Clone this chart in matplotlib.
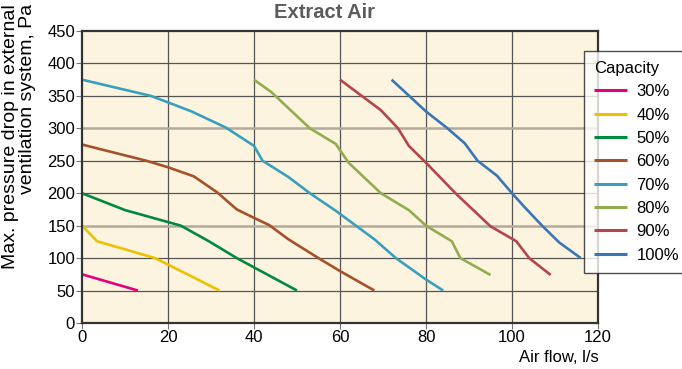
import matplotlib
matplotlib.use("Agg")
from matplotlib import pyplot as plt

# capacity curves, air flow (l/s) vs max pressure drop (Pa)
flow_30 = [0, 13]
pa_30 = [75, 50]

flow_40 = [0, 3.5, 17, 32]
pa_40 = [150, 126, 100, 50]

flow_50 = [0, 10, 23, 29.5, 36, 50]
pa_50 = [200, 174, 150, 126, 100, 50]

flow_60 = [0, 15, 20, 26, 31.5, 36, 40, 43.5, 48, 55, 60, 68]
pa_60 = [275, 250, 240, 226, 201, 175, 162, 151, 129, 100, 80, 50]

flow_70 = [0, 16, 20, 25.5, 33.5, 40, 42, 48, 53, 59, 68, 73, 80, 84]
pa_70 = [375, 350, 340, 326, 301, 273, 250, 225, 200, 173, 129, 100, 67, 50]

flow_80 = [40, 44, 53, 59, 62, 69.5, 76, 80, 86, 88, 95]
pa_80 = [375, 356, 300, 276, 247, 200, 174, 150, 126, 100, 74]

flow_90 = [60, 69.5, 73.5, 76, 80, 87, 95, 101, 104, 109]
pa_90 = [375, 328, 300, 273, 247, 199, 149, 126, 100, 74]

flow_100 = [72, 80, 85, 89, 92, 96.5, 100, 103, 107, 111, 116]
pa_100 = [375, 326, 300, 277, 250, 227, 200, 178, 150, 124, 100]

labels = ["30%", "40%", "50%", "60%", "70%", "80%", "90%", "100%"]
colors = ["#e5007d", "#ecc100", "#008a3e", "#a5512a", "#3a9fbd", "#92ad50", "#b5454a", "#3a76b5"]
x_ticks = [0, 20, 40, 60, 80, 100, 120]
y_ticks = [0, 50, 100, 150, 200, 250, 300, 350, 400, 450]

series = [
    (flow_30, pa_30), (flow_40, pa_40), (flow_50, pa_50), (flow_60, pa_60),
    (flow_70, pa_70), (flow_80, pa_80), (flow_90, pa_90), (flow_100, pa_100),
]

plt.rcParams["font.family"] = ["Liberation Sans", "DejaVu Sans"]

fig = plt.figure(figsize=(6.82, 3.69), dpi=100)
ax = fig.add_axes([82 / 682, 1 - 323 / 369, 516 / 682, 292 / 369])
ax.set_facecolor("#fdf4e0")

for v in x_ticks[1:-1]:
    ax.axvline(v, color="#555555", lw=0.9, zorder=1)
for v in y_ticks[1:-1]:
    if v in (150, 300):
        ax.axhline(v, color="#b3aa9c", lw=1.8, zorder=1)
    else:
        ax.axhline(v, color="#555555", lw=0.9, zorder=1)

for (x, y), lab, col in zip(series, labels, colors):
    ax.plot(x, y, color=col, lw=1.9, label=lab, zorder=3, solid_capstyle="butt")

ax.set_xlim(0, 120)
ax.set_ylim(0, 450)
ax.set_xticks(x_ticks)
ax.set_yticks(y_ticks)
ax.tick_params(labelsize=12, length=4, color="#777777", width=0.8, pad=1)
for s in ax.spines.values():
    s.set_color("#333333")
    s.set_linewidth(1.6)
    s.set_zorder(4)

fig.text(325 / 682, 1 - 12 / 369, "Extract Air", ha="center", va="center",
         fontsize=14.5, fontweight="bold", color="#5b5b5b")
fig.text(599 / 682, 1 - 357 / 369, "Air flow, l/s", ha="right", va="center", fontsize=12)
fig.text(19 / 682, 1 - 4 / 369, "Max. pressure drop in external\nventilation system, Pa",
         rotation=90, ha="center", va="top", multialignment="right", fontsize=14, linespacing=1.0)

leg = fig.legend(loc="upper left", bbox_to_anchor=(584 / 682, 1 - 51 / 369), title="Capacity",
                 fontsize=12, title_fontsize=12, frameon=True, fancybox=False, handlelength=2.0,
                 handletextpad=0.55, labelspacing=0.5, borderpad=0.6, borderaxespad=0,
                 alignment="left")
leg.get_frame().set_edgecolor("#222222")
leg.get_frame().set_linewidth(1.0)
for line in leg.get_lines():
    line.set_linewidth(2.2)

fig.savefig("out.png", dpi=100)
